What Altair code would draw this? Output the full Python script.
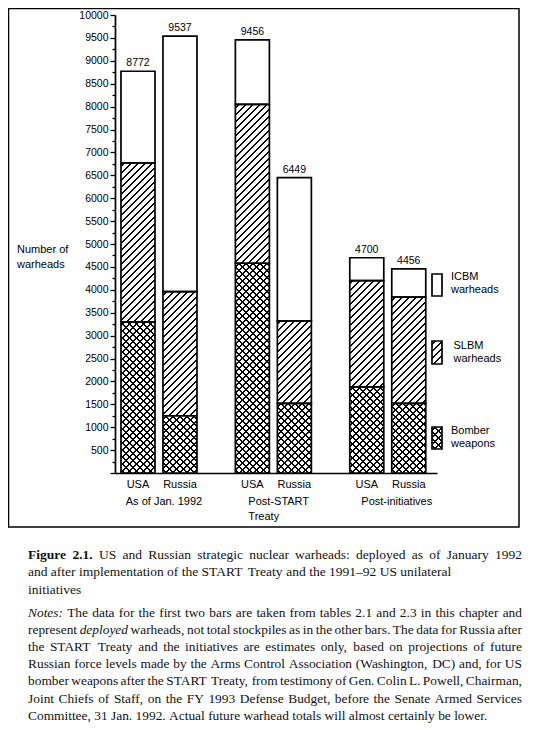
import altair as alt

# ---------------- data ----------------
bar_groups = ["As of Jan. 1992", "As of Jan. 1992",
              "Post-START Treaty", "Post-START Treaty",
              "Post-initiatives", "Post-initiatives"]
bar_countries = ["USA", "Russia", "USA", "Russia", "USA", "Russia"]
bomber_weapons = [3300, 1250, 4580, 1520, 1880, 1520]
slbm_warheads = [3470, 2710, 3470, 1800, 2320, 2320]
bar_totals = [8772, 9537, 9456, 6449, 4700, 4456]
group_order = ["As of Jan. 1992", "Post-START Treaty", "Post-initiatives"]
country_order = ["USA", "Russia"]
legend_labels = [["ICBM", "warheads"], ["SLBM", "warheads"], ["Bomber", "weapons"]]
y_tick_values = list(range(0, 10001, 250))

# caption: (text, style) runs per line; justified flag
caption_lines = [
    ([("Figure 2.1.", "bold"), ("US and Russian strategic nuclear warheads: deployed as of January 1992", "normal")], True),
    ([("and after implementation of the START Treaty and the 1991\u201392 US unilateral", "normal")], False),
    ([("initiatives", "normal")], False),
]
notes_lines = [
    ([("Notes:", "italic"), ("The data for the first two bars are taken from tables 2.1 and 2.3 in this chapter and", "normal")], True),
    ([("represent", "normal"), ("deployed", "italic"), ("warheads, not total stockpiles as in the other bars. The data for Russia after", "normal")], True),
    ([("the START Treaty and the initiatives are estimates only, based on projections of future", "normal")], True),
    ([("Russian force levels made by the Arms Control Association (Washington, DC) and, for US", "normal")], True),
    ([("bomber weapons after the START Treaty, from testimony of Gen. Colin L. Powell, Chairman,", "normal")], True),
    ([("Joint Chiefs of Staff, on the FY 1993 Defense Budget, before the Senate Armed Services", "normal")], True),
    ([("Committee, 31 Jan. 1992. Actual future warhead totals will almost certainly be lower.", "normal")], False),
]

# ---------------- layout / style ----------------
PLOT_W, PLOT_H, Y_MAX = 322, 458, 10000
PI, PO, AL = 0.3, 0.0574, 0.3
PI2, PO2 = 0.19, 0.0486
step = PLOT_W / (3 - PI + 2 * PO)
step2 = step * (1 - PI) / (2 - PI2 + 2 * PO2)
BAR_W = step2 * (1 - PI2)
PX = PLOT_H / Y_MAX
SANS = "Liberation Sans"
SERIF = "Liberation Serif"
INK = "#000000"


def hatch(w, h, period, lw, kind, bg="#ffffff", ink="#000000"):
    span = w + h
    k = span / (w * w + h * h)
    a, b = k * w, k * h
    if kind == "/":
        coords = dict(x1=0, y1=0, x2=a, y2=b)
    else:
        coords = dict(x1=0, y1=1, x2=a, y2=1 - b)
    half = lw * 1.4142 / 2
    stops = [{"offset": 0, "color": bg}]
    c = period / 2
    while c - half < span:
        s = round(max(0.0, (c - half) / span), 5)
        e = round(min(1.0, (c + half) / span), 5)
        stops += [{"offset": s, "color": bg}, {"offset": s, "color": ink},
                  {"offset": e, "color": ink}, {"offset": e, "color": bg}]
        c += period
    stops.append({"offset": 1, "color": bg})
    return {"gradient": "linear", **coords, "stops": stops}


CLEAR = "rgba(255,255,255,0)"
SL_P, SL_W = 7.0, 1.4
BO_P, BO_W = 7.0, 1.5

rows = []
for g, c, bo, sl, tot in zip(bar_groups, bar_countries, bomber_weapons, slbm_warheads, bar_totals):
    segs = [("Bomber", 0, bo), ("SLBM", bo, bo + sl), ("ICBM", bo + sl, tot)]
    for cat, lo, hi in segs:
        h = (hi - lo) * PX
        if cat == "Bomber":
            f1 = hatch(BAR_W, h, BO_P, BO_W, "/")
            f2 = hatch(BAR_W, h, BO_P, BO_W, "\\", bg=CLEAR)
        elif cat == "SLBM":
            f1 = hatch(BAR_W, h, SL_P, SL_W, "/")
            f2 = CLEAR
        else:
            f1 = "#ffffff"
            f2 = CLEAR
        rows.append({"grp": g, "cty": c, "cat": cat, "lo": lo, "hi": hi,
                     "f1": f1, "f2": f2, "total": tot})

bars_data = alt.Data(values=rows)
tot_data = alt.Data(values=[{"grp": g, "cty": c, "total": t}
                            for g, c, t in zip(bar_groups, bar_countries, bar_totals)])
one = alt.Data(values=[{"k": 0}])

x_enc = alt.X("grp:N", sort=group_order, title=None,
              scale=alt.Scale(domain=group_order, paddingInner=PI, paddingOuter=PO, align=AL),
              axis=alt.Axis(labels=False, ticks=False, domain=True, domainColor="black",
                            domainWidth=1.6, grid=False))
xo_enc = alt.XOffset("cty:N", sort=country_order,
                     scale=alt.Scale(domain=country_order, paddingInner=PI2, paddingOuter=PO2))
y_scale = alt.Scale(domain=[0, Y_MAX], nice=False, zero=True)
y_axis = alt.Axis(values=y_tick_values, format="d", grid=False, title=None,
                  labelExpr="datum.value > 0 && datum.value % 500 == 0 ? datum.label : ''",
                  tickSize={"condition": {"test": "datum.value % 500 == 0", "value": 5}, "value": 3},
                  tickColor="black", tickWidth=1.3, domainColor="black", domainWidth=1.7,
                  labelFont=SANS, labelFontSize=10.5, labelColor=INK, labelPadding=2)

fills = alt.Chart(bars_data).mark_bar().encode(
    x=x_enc, xOffset=xo_enc,
    y=alt.Y("lo:Q", scale=y_scale, axis=y_axis), y2="hi:Q",
    fill=alt.Fill("f1:N", scale=None))
cross = alt.Chart(bars_data).mark_bar().encode(
    x=x_enc, xOffset=xo_enc,
    y=alt.Y("lo:Q", scale=y_scale, axis=y_axis), y2="hi:Q",
    fill=alt.Fill("f2:N", scale=None)).transform_filter("datum.cat == 'Bomber'")
outline = alt.Chart(bars_data).mark_bar(filled=False, stroke="black", strokeWidth=1.7).encode(
    x=x_enc, xOffset=xo_enc,
    y=alt.Y("lo:Q", scale=y_scale, axis=y_axis), y2="hi:Q")

value_labels = alt.Chart(tot_data).mark_text(
    font=SANS, fontSize=10.5, color=INK, dy=-5, baseline="alphabetic").encode(
    x=x_enc, xOffset=xo_enc, y=alt.Y("total:Q", scale=y_scale, axis=y_axis),
    text=alt.Text("total:Q", format="d"))
country_labels = alt.Chart(tot_data).mark_text(
    font=SANS, fontSize=11, color=INK, baseline="middle").encode(
    x=x_enc, xOffset=xo_enc, y=alt.value(PLOT_H + 12), text="cty:N")

group_layers = []
for name, txt, align, dx in [(group_order[0], "As of Jan. 1992", "center", 5),
                             (group_order[1], "Post-START\nTreaty", "left", -25),
                             (group_order[2], "Post-initiatives", "center", 9)]:
    group_layers.append(alt.Chart(alt.Data(values=[{"grp": name}])).mark_text(
        font=SANS, fontSize=11, color=INK, baseline="middle", align=align, dx=dx,
        lineBreak="\n", lineHeight=15).encode(
        x=x_enc, y=alt.value(PLOT_H + 29), text=alt.value(txt)))

# y title
ytitle = [alt.Chart(one).mark_text(font=SANS, fontSize=11, color=INK, align="left",
                                   baseline="middle").encode(
    x=alt.value(-98), y=alt.value(235 + 15 * i), text=alt.value(t))
    for i, t in enumerate(["Number of", "warheads"])]

# legend
LX0, LX1 = 317, 327
leg_boxes = []
leg_specs = [(259, 281, "#ffffff", None), (326, 349, hatch(10, 23, SL_P, SL_W, "/"), None),
             (412, 434, hatch(10, 22, BO_P, BO_W, "/"),
              hatch(10, 22, BO_P, BO_W, "\\", bg=CLEAR))]
for y0, y1, f1, f2 in leg_specs:
    leg_boxes.append(alt.Chart(one).mark_rect(fill=f1).encode(
        x=alt.value(LX0), x2=alt.value(LX1), y=alt.value(y0), y2=alt.value(y1)))
    if f2 is not None:
        leg_boxes.append(alt.Chart(one).mark_rect(fill=f2).encode(
            x=alt.value(LX0), x2=alt.value(LX1), y=alt.value(y0), y2=alt.value(y1)))
    leg_boxes.append(alt.Chart(one).mark_rect(filled=False, stroke="black", strokeWidth=1.7).encode(
        x=alt.value(LX0), x2=alt.value(LX1), y=alt.value(y0), y2=alt.value(y1)))
leg_text = []
for (l1, l2), lx, ly in zip(legend_labels, [336, 338.5, 336], [262, 331, 416]):
    for i, t in enumerate([l1, l2]):
        leg_text.append(alt.Chart(one).mark_text(font=SANS, fontSize=11, color=INK, align="left",
                                                 baseline="middle").encode(
            x=alt.value(lx), y=alt.value(ly + 13 * i), text=alt.value(t)))

# frame
frame = alt.Chart(one).mark_rect(filled=False, stroke="black", strokeWidth=1.5).encode(
    x=alt.value(-106.5), x2=alt.value(404), y=alt.value(-6.5), y2=alt.value(512))

# ---------------- caption with justified lines ----------------
TIMES = {" ": 250, "!": 333, "(": 333, ")": 333, ",": 250, "-": 333, ".": 250, "/": 278,
         ":": 278, ";": 278, "?": 444, "\u2013": 500,
         "A": 722, "B": 667, "C": 667, "D": 722, "E": 611, "F": 556, "G": 722, "H": 722,
         "I": 333, "J": 389, "K": 722, "L": 611, "M": 889, "N": 722, "O": 722, "P": 556,
         "Q": 722, "R": 667, "S": 556, "T": 611, "U": 722, "V": 722, "W": 944, "X": 722,
         "Y": 722, "Z": 611,
         "a": 444, "b": 500, "c": 444, "d": 500, "e": 444, "f": 333, "g": 500, "h": 500,
         "i": 278, "j": 278, "k": 500, "l": 278, "m": 778, "n": 500, "o": 500, "p": 500,
         "q": 500, "r": 333, "s": 389, "t": 278, "u": 500, "v": 500, "w": 722, "x": 500,
         "y": 500, "z": 444}
TIMES_BOLD = dict(TIMES, F=611, i=278, g=500, u=556, r=444, e=444)
TIMES_ITAL = dict(TIMES, N=667, o=500, t=278, e=444, s=389, d=500, p=500, l=278, y=444)
TIMES_ITAL[":"] = 333
TABLES = {"normal": TIMES, "bold": TIMES_BOLD, "italic": TIMES_ITAL}
for ch in "0123456789":
    for tb in TABLES.values():
        tb[ch] = 500


def tw(s, size, style):
    tb = TABLES[style]
    return sum(tb.get(ch, 500) for ch in s) * size / 1000.0


XL, XR = 28 - 115, 522 - 115
word_rows = []


def set_line(runs, justify, y, size):
    words = []
    for text, style in runs:
        for wd in text.split(" "):
            words.append((wd, style))
    widths = [tw(wd, size, st) for wd, st in words]
    if justify and len(words) > 1:
        gap = (XR - XL - sum(widths)) / (len(words) - 1)
    else:
        gap = 250 * size / 1000.0
    x = XL
    for (wd, st), wdt in zip(words, widths):
        word_rows.append({"w": wd, "px": round(x, 2), "py": y, "st": st, "sz": size})
        x += wdt + gap


CAP_SIZE, NOTE_SIZE = 13.5, 13.4
for i, (runs, just) in enumerate(caption_lines):
    set_line(runs, just, 559 - 15 + 17.4 * i, CAP_SIZE)
for i, (runs, just) in enumerate(notes_lines):
    set_line(runs, just, 617 - 15 + 17.1 * i, NOTE_SIZE)

words_data = alt.Data(values=word_rows)
cap_layers = []
for st, weight, fstyle in [("normal", "normal", "normal"), ("bold", "bold", "normal"),
                           ("italic", "normal", "italic")]:
    for sz in (CAP_SIZE, NOTE_SIZE):
        cap_layers.append(alt.Chart(words_data).mark_text(
            font=SERIF, fontSize=sz, fontWeight=weight, fontStyle=fstyle, color="#111111",
            align="left", baseline="alphabetic").encode(
            x=alt.X("px:Q", scale=None, axis=None),
            y=alt.Y("py:Q", scale=None, axis=None),
            text="w:N").transform_filter(f"datum.st == '{st}' && datum.sz == {sz}"))

chart = alt.layer(fills, cross, outline, value_labels, country_labels, *group_layers,
                  *ytitle, *leg_boxes, *leg_text, frame, *cap_layers).properties(
    width=PLOT_W, height=PLOT_H,
    autosize=alt.AutoSizeParams(type="none"),
    padding={"left": 107, "top": 7, "right": 88, "bottom": 250},
    background="white",
).configure_view(strokeWidth=0)

chart.save("out.html", embed_options={"renderer": "svg", "actions": False})
